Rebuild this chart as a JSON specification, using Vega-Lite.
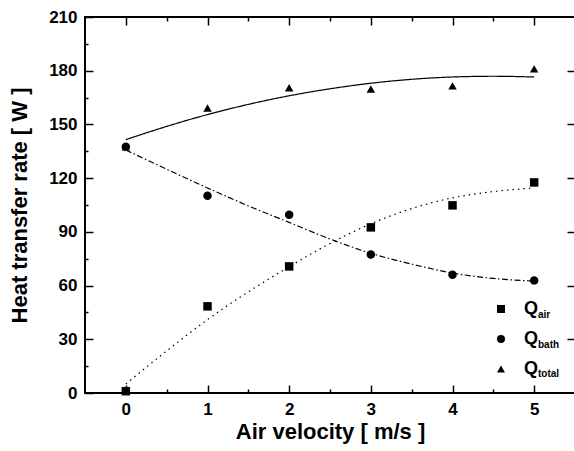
{
  "$schema": "https://vega.github.io/schema/vega-lite/v6.json",
  "width": 490,
  "height": 376,
  "autosize": {"type": "none"},
  "padding": {"left": 85, "top": 17, "right": 0, "bottom": 58},
  "background": "white",
  "config": {
    "view": {"stroke": "black", "strokeWidth": 2},
    "font": "Liberation Sans",
    "axis": {"tickColor": "black", "tickWidth": 1.5, "domain": false, "grid": false, "labelColor": "black", "titleColor": "black", "labelFont": "Liberation Sans", "titleFont": "Liberation Sans", "labelFontWeight": "bold", "titleFontWeight": "bold", "labelFontSize": 17, "titleFontSize": 22, "labelOverlap": false, "labelFlush": false},
    "legend": {"labelColor": "black", "labelFont": "Liberation Sans"}
  },
  "datasets": {
    "points": [
      {"x": 0, "y": 1, "series": "air", "label": "air"},
      {"x": 1, "y": 48.4, "series": "air", "label": "air"},
      {"x": 2, "y": 70.7, "series": "air", "label": "air"},
      {"x": 3, "y": 92.5, "series": "air", "label": "air"},
      {"x": 4, "y": 104.8, "series": "air", "label": "air"},
      {"x": 5, "y": 117.6, "series": "air", "label": "air"},
      {"x": 0, "y": 137.5, "series": "bath", "label": "bath"},
      {"x": 1, "y": 110.2, "series": "bath", "label": "bath"},
      {"x": 2, "y": 99.6, "series": "bath", "label": "bath"},
      {"x": 3, "y": 77.3, "series": "bath", "label": "bath"},
      {"x": 4, "y": 66.1, "series": "bath", "label": "bath"},
      {"x": 5, "y": 62.9, "series": "bath", "label": "bath"},
      {"x": 0, "y": 137.5, "series": "total", "label": "total"},
      {"x": 1, "y": 159.2, "series": "total", "label": "total"},
      {"x": 2, "y": 170.5, "series": "total", "label": "total"},
      {"x": 3, "y": 169.8, "series": "total", "label": "total"},
      {"x": 4, "y": 171.5, "series": "total", "label": "total"},
      {"x": 5, "y": 181, "series": "total", "label": "total"}
    ],
    "curves": [
      {"x": 0, "y": 5, "series": "air"},
      {"x": 0.5, "y": 23.5, "series": "air"},
      {"x": 1, "y": 41, "series": "air"},
      {"x": 1.5, "y": 56.5, "series": "air"},
      {"x": 2, "y": 70.5, "series": "air"},
      {"x": 2.5, "y": 83.5, "series": "air"},
      {"x": 3, "y": 94.5, "series": "air"},
      {"x": 3.5, "y": 103, "series": "air"},
      {"x": 4, "y": 109, "series": "air"},
      {"x": 4.5, "y": 112.5, "series": "air"},
      {"x": 5, "y": 114.5, "series": "air"},
      {"x": 0, "y": 135.7, "series": "bath"},
      {"x": 0.5, "y": 125, "series": "bath"},
      {"x": 1, "y": 114.5, "series": "bath"},
      {"x": 1.5, "y": 104.5, "series": "bath"},
      {"x": 2, "y": 95.3, "series": "bath"},
      {"x": 2.5, "y": 86, "series": "bath"},
      {"x": 3, "y": 78, "series": "bath"},
      {"x": 3.5, "y": 72, "series": "bath"},
      {"x": 4, "y": 67, "series": "bath"},
      {"x": 4.5, "y": 64, "series": "bath"},
      {"x": 5, "y": 62.5, "series": "bath"},
      {"x": 0, "y": 141.5, "series": "total"},
      {"x": 0.5, "y": 148.9, "series": "total"},
      {"x": 1, "y": 155.5, "series": "total"},
      {"x": 1.5, "y": 161.2, "series": "total"},
      {"x": 2, "y": 166, "series": "total"},
      {"x": 2.5, "y": 169.9, "series": "total"},
      {"x": 3, "y": 173, "series": "total"},
      {"x": 3.5, "y": 175.2, "series": "total"},
      {"x": 4, "y": 176.5, "series": "total"},
      {"x": 4.5, "y": 176.9, "series": "total"},
      {"x": 5, "y": 176.5, "series": "total"}
    ]
  },
  "layer": [
    {
      "data": {"name": "curves"},
      "mark": {"type": "line", "interpolate": "monotone", "color": "black", "strokeWidth": 1.2},
      "encoding": {
        "x": {
          "field": "x", "type": "quantitative",
          "scale": {"domain": [-0.5, 5.5], "nice": false, "zero": false},
          "axis": {
            "orient": "bottom",
            "values": [0, 0.5, 1, 1.5, 2, 2.5, 3, 3.5, 4, 4.5, 5],
            "tickSize": {"condition": {"test": "datum.value % 1 === 0", "value": -8}, "value": -4},
            "labelExpr": "datum.value % 1 === 0 ? format(datum.value, 'd') : ''",
            "labelPadding": 16,
            "title": "Air velocity [ m/s ]",
            "titlePadding": 0
          }
        },
        "y": {
          "field": "y", "type": "quantitative",
          "scale": {"domain": [0, 210], "nice": false, "zero": false},
          "axis": {
            "orient": "left",
            "values": [0, 15, 30, 45, 60, 75, 90, 105, 120, 135, 150, 165, 180, 195, 210],
            "tickSize": {"condition": {"test": "datum.value % 30 === 0", "value": -8}, "value": -3},
            "labelExpr": "datum.value % 30 === 0 ? format(datum.value, 'd') : ''",
            "labelPadding": 16,
            "title": "Heat transfer rate [ W ]",
            "titlePadding": 17
          }
        },
        "strokeDash": {
          "field": "series", "type": "nominal",
          "scale": {"range": [[1.5, 4], [6, 2.5, 1.5, 2.5], [1, 0]]},
          "legend": null
        }
      }
    },
    {
      "data": {"name": "points"},
      "mark": {"type": "point", "filled": true, "color": "black", "strokeWidth": 0, "size": 72, "opacity": 1},
      "encoding": {
        "x": {
          "field": "x", "type": "quantitative",
          "scale": {"domain": [-0.5, 5.5], "nice": false, "zero": false},
          "axis": {
            "orient": "top",
            "values": [0, 0.5, 1, 1.5, 2, 2.5, 3, 3.5, 4, 4.5, 5],
            "tickSize": {"condition": {"test": "datum.value % 1 === 0", "value": -8}, "value": -4},
            "labels": false,
            "title": null
          }
        },
        "y": {
          "field": "y", "type": "quantitative",
          "scale": {"domain": [0, 210], "nice": false, "zero": false},
          "axis": {
            "orient": "right",
            "values": [30, 60, 90, 120, 150, 180],
            "tickSize": -8,
            "labels": false,
            "title": null
          }
        },
        "shape": {
          "field": "series", "type": "nominal",
          "scale": {"domain": ["air", "bath", "total"], "range": ["square", "circle", "triangle-up"]},
          "legend": {
            "orient": "none", "legendX": 407, "legendY": 283, "title": null,
            "labelExpr": "'Q'", "labelFontSize": 18, "labelFontWeight": "bold",
            "symbolSize": 64, "symbolFillColor": "black", "symbolStrokeColor": "black", "symbolStrokeWidth": 0,
            "labelOffset": 14, "rowPadding": 12, "padding": 0
          }
        },
        "opacity": {
          "field": "label", "type": "nominal",
          "scale": {"range": [1, 1, 1]},
          "legend": {
            "orient": "none", "legendX": 443, "legendY": 293, "title": null,
            "labelFontSize": 10, "labelFontWeight": "bold",
            "symbolSize": 0, "symbolOpacity": 0, "symbolStrokeWidth": 0,
            "labelOffset": 0, "rowPadding": 19.5, "padding": 0
          }
        }
      }
    }
  ],
  "resolve": {"axis": {"x": "independent", "y": "independent"}}
}
